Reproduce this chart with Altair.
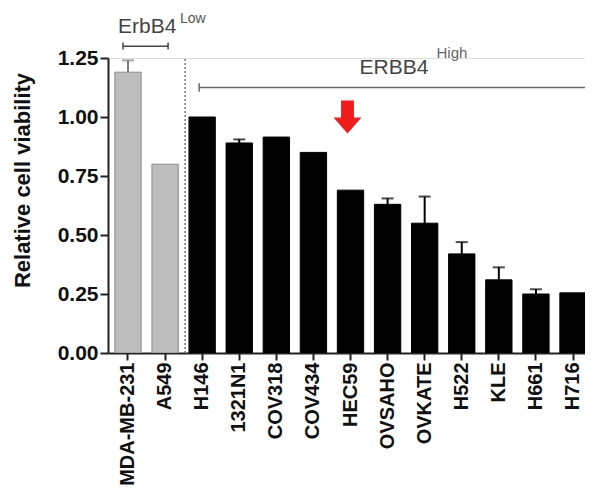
import altair as alt
import pandas as pd

categories = ["MDA-MB-231", "A549", "H146", "1321N1", "COV318", "COV434", "HEC59",
              "OVSAHO", "OVKATE", "H522", "KLE", "H661", "H716"]
values = [1.19, 0.80, 1.00, 0.89, 0.915, 0.85, 0.69, 0.63, 0.55, 0.42, 0.31, 0.25, 0.255]
err_top = [1.24, None, None, 0.905, None, None, None, 0.655, 0.663, 0.47, 0.363, 0.27, None]
groups = ["Low", "Low"] + ["High"] * 11

fill_map = {"Low": "#bdbdbd", "High": "#000000"}
stroke_map = {"Low": "#8c8c8c", "High": "#000000"}
err_map = {"Low": "#808080", "High": "#000000"}

df = pd.DataFrame({"cell": categories, "value": values, "err": err_top, "group": groups})
df["fill"] = df["group"].map(fill_map)
df["stroke"] = df["group"].map(stroke_map)
df["ecol"] = df["group"].map(err_map)
edf = df.dropna(subset=["err"])

FONT = "Liberation Sans"
xscale = alt.Scale(domain=categories, range=[0, 485], paddingInner=0.29, paddingOuter=0.184)
yscale = alt.Scale(domain=[0, 1.25], nice=False)

X = alt.X("cell:N", scale=xscale, sort=categories,
          axis=alt.Axis(title=None, labelAngle=-90, labelFont=FONT, labelFontSize=20,
                        labelFontWeight="bold", labelColor="#111", labelPadding=2,
                        tickSize=7, tickWidth=2, tickColor="#222", domainColor="#222",
                        domainWidth=2, labelOverlap=False))
Y = alt.Y("value:Q", scale=yscale,
          axis=alt.Axis(title="Relative cell viability", values=[0, 0.25, 0.5, 0.75, 1.0, 1.25],
                        format=".2f", grid=False, labelFont=FONT, labelFontSize=21,
                        labelFontWeight="bold", labelColor="#111", labelPadding=2,
                        tickSize=8, tickWidth=2, tickColor="#222", domainColor="#222",
                        domainWidth=2, titleFont=FONT, titleFontSize=22,
                        titleFontWeight="bold", titleColor="#111", titleX=-79,
                        titleY=122, titleBaseline="alphabetic", titleAlign="center"))

bars = alt.Chart(df).mark_bar(strokeWidth=1, clip=True).encode(
    x=X, y=Y,
    fill=alt.Fill("fill:N", scale=None),
    stroke=alt.Stroke("stroke:N", scale=None),
)

err_rule = alt.Chart(edf).mark_rule(strokeWidth=2).encode(
    x=alt.X("cell:N", scale=xscale, sort=categories),
    y=alt.Y("value:Q", scale=yscale),
    y2="err:Q",
    color=alt.Color("ecol:N", scale=None),
)
err_cap = alt.Chart(edf).mark_tick(size=12, thickness=2).encode(
    x=alt.X("cell:N", scale=xscale, sort=categories),
    y=alt.Y("err:Q", scale=yscale),
    color=alt.Color("ecol:N", scale=None),
)

# dotted separator between low and high groups
sep_df = pd.DataFrame({"cell": ["H146"], "y0": [0.0], "y1": [1.25]})
sep = alt.Chart(sep_df).mark_rule(strokeDash=[2, 2], strokeWidth=1.5, color="#777",
                                  xOffset=-17).encode(
    x=alt.X("cell:N", scale=xscale, sort=categories),
    y=alt.Y("y0:Q", scale=yscale), y2="y1:Q")

# ErbB4 low bracket
low_df = pd.DataFrame({"a": ["MDA-MB-231"], "b": ["A549"], "y": [1.30]})
low_line = alt.Chart(low_df).mark_rule(color="#444", strokeWidth=1.5, xOffset=-5,
                                       x2Offset=3).encode(
    x=alt.X("a:N", scale=xscale, sort=categories), x2="b:N",
    y=alt.Y("y:Q", scale=yscale))
lowcap_df = pd.DataFrame({"cell": ["MDA-MB-231", "A549"],
                          "y0": [1.286, 1.286], "y1": [1.316, 1.316]})
lowcap1 = alt.Chart(lowcap_df.iloc[[0]]).mark_rule(color="#444", strokeWidth=1.5,
                                                   xOffset=-5).encode(
    x=alt.X("cell:N", scale=xscale, sort=categories),
    y=alt.Y("y0:Q", scale=yscale), y2="y1:Q")
lowcap2 = alt.Chart(lowcap_df.iloc[[1]]).mark_rule(color="#444", strokeWidth=1.5,
                                                   xOffset=3).encode(
    x=alt.X("cell:N", scale=xscale, sort=categories),
    y=alt.Y("y0:Q", scale=yscale), y2="y1:Q")

# ERBB4 high bracket
high_df = pd.DataFrame({"a": ["H146"], "b": ["H716"], "y": [1.125]})
high_line = alt.Chart(high_df).mark_rule(color="#666", strokeWidth=1.5, xOffset=-3,
                                         x2Offset=30).encode(
    x=alt.X("a:N", scale=xscale, sort=categories), x2="b:N",
    y=alt.Y("y:Q", scale=yscale))
highcap_df = pd.DataFrame({"cell": ["H146"], "y0": [1.107], "y1": [1.143]})
highcap = alt.Chart(highcap_df).mark_rule(color="#666", strokeWidth=1.5, xOffset=-3).encode(
    x=alt.X("cell:N", scale=xscale, sort=categories),
    y=alt.Y("y0:Q", scale=yscale), y2="y1:Q")

# labels
lab_df = pd.DataFrame({
    "cell": ["MDA-MB-231", "MDA-MB-231", "HEC59", "HEC59"],
    "y": [1.354, 1.40, 1.184, 1.252],
    "txt": ["ErbB4", "Low", "ERBB4", "High"],
})
t1 = alt.Chart(lab_df.iloc[[0]]).mark_text(font=FONT, fontSize=21, color="#444",
                                           align="left", baseline="alphabetic", dx=-10).encode(
    x=alt.X("cell:N", scale=xscale, sort=categories), y=alt.Y("y:Q", scale=yscale), text="txt:N")
t2 = alt.Chart(lab_df.iloc[[1]]).mark_text(font=FONT, fontSize=14, color="#555",
                                           align="left", baseline="alphabetic", dx=52).encode(
    x=alt.X("cell:N", scale=xscale, sort=categories), y=alt.Y("y:Q", scale=yscale), text="txt:N")
t3 = alt.Chart(lab_df.iloc[[2]]).mark_text(font=FONT, fontSize=21, color="#444",
                                           align="left", baseline="alphabetic", dx=9).encode(
    x=alt.X("cell:N", scale=xscale, sort=categories), y=alt.Y("y:Q", scale=yscale), text="txt:N")
t4 = alt.Chart(lab_df.iloc[[3]]).mark_text(font=FONT, fontSize=15, color="#666",
                                           align="left", baseline="alphabetic", dx=86).encode(
    x=alt.X("cell:N", scale=xscale, sort=categories), y=alt.Y("y:Q", scale=yscale), text="txt:N")

# red arrow
arrow_path = "M-0.46,-1.18 L0.46,-1.18 L0.46,0.04 L1,0.04 L0,1.18 L-1,0.04 L-0.46,0.04 Z"
arrow_df = pd.DataFrame({"cell": ["HEC59"], "y": [1.0]})
arrow = alt.Chart(arrow_df).mark_point(shape=arrow_path, size=784, filled=True,
                                       color="#f01c1c", opacity=1, xOffset=-3).encode(
    x=alt.X("cell:N", scale=xscale, sort=categories), y=alt.Y("y:Q", scale=yscale))

chart = alt.layer(
    bars, err_rule, err_cap, sep, low_line, lowcap1, lowcap2, high_line, highcap,
    t1, t2, t3, t4, arrow
).properties(
    width=477, height=295,
    autosize=alt.AutoSizeParams(type="none"),
    padding={"left": 100, "top": 50, "right": 0, "bottom": 135},
).configure_view(stroke=None).configure(background="white")

chart.save("out.html", embed_options={"renderer": "svg", "actions": False})
